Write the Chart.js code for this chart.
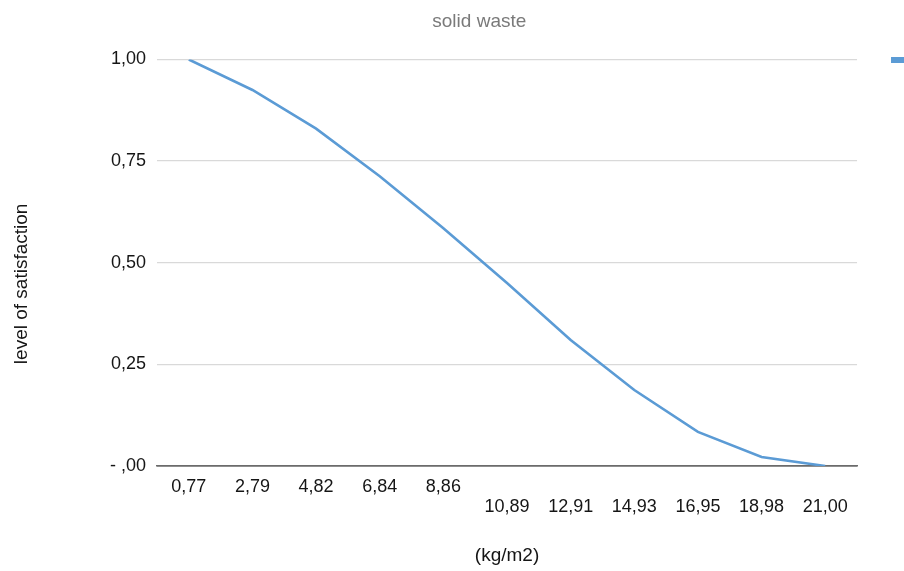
<!DOCTYPE html>
<html>
<head>
<meta charset="utf-8">
<title>solid waste</title>
<script src="https://cdn.jsdelivr.net/npm/chart.js"></script>
<style>
  html, body { margin: 0; padding: 0; background: #ffffff; width: 904px; height: 571px; overflow: hidden; }
  canvas { display: block; }
</style>
</head>
<body>
<canvas id="chart" width="960" height="571"></canvas>
<script>
// Waste load per area (kg/m2) and the matching level of satisfaction
const kgPerM2 = ['0,77', '2,79', '4,82', '6,84', '8,86', '10,89', '12,91', '14,93', '16,95', '18,98', '21,00'];
const satisfaction = [1.00, 0.925, 0.83, 0.713, 0.585, 0.45, 0.31, 0.187, 0.084, 0.022, 0.00];

// Y axis ticks and their printed labels
const yTickValues = [0, 0.25, 0.5, 0.75, 1];
const yTickLabels = ['- ,00', '0,25', '0,50', '0,75', '1,00'];

const seriesName = 'solid waste';

// Layout settings
const LINE_BLUE = '#5b9bd5';
const GRID_GREY = '#d9d9d9';
const AXIS_GREY = '#6b6b6b';
const TEXT_DARK = '#151515';
const firstRowCount = 5;   // labels after this drop to a second row

Chart.defaults.font.family = '"Liberation Sans", Arial, Helvetica, sans-serif';

new Chart(document.getElementById('chart'), {
  type: 'line',
  data: {
    labels: kgPerM2,
    datasets: [{
      label: seriesName,
      data: satisfaction,
      borderColor: LINE_BLUE,
      backgroundColor: LINE_BLUE,
      borderWidth: 2.6,
      pointRadius: 0,
      tension: 0,
      fill: false
    }]
  },
  options: {
    responsive: false,
    animation: false,
    devicePixelRatio: 1,
    layout: { padding: { left: 0, right: 1.4, top: 0, bottom: 0 } },
    plugins: {
      title: {
        display: true,
        text: 'solid waste',
        color: '#7a7a7a',
        font: { size: 19, weight: 'normal' },
        padding: { top: 10.6, bottom: 26.1 }
      },
      legend: {
        position: 'right',
        align: 'start',
        title: { display: true, text: '', font: { size: 10 }, padding: { top: 10, bottom: 0 } },
        labels: {
          padding: 34,
          boxWidth: 14,
          boxHeight: 6,
          color: TEXT_DARK,
          font: { size: 8 },
          generateLabels(chart) {
            const items = Chart.defaults.plugins.legend.labels.generateLabels(chart);
            items.forEach(item => { item.lineWidth = 0; });
            return items;
          }
        }
      },
      tooltip: { enabled: false }
    },
    scales: {
      x: {
        offset: true,
        grid: { display: false, drawTicks: false },
        border: { display: true, color: AXIS_GREY, width: 1.5 },
        ticks: {
          autoSkip: false,
          maxRotation: 0,
          minRotation: 0,
          padding: 11.5,
          color: TEXT_DARK,
          font: { size: 18, lineHeight: 1.08 },
          callback(value, index) {
            const text = kgPerM2[index];
            return index < firstRowCount ? text : ['', text];
          }
        },
        title: {
          display: true,
          text: '(kg/m2)',
          color: TEXT_DARK,
          font: { size: 19 },
          padding: { top: 0, bottom: 3.6 }
        },
        afterFit(scale) { scale.height = 105; }
      },
      y: {
        min: 0,
        max: 1,
        afterBuildTicks(scale) {
          scale.ticks = yTickValues.map(v => ({ value: v }));
        },
        grid: {
          drawTicks: false,
          color: c => (c.tick && c.tick.value === 0 ? AXIS_GREY : GRID_GREY),
          lineWidth: c => (c.tick && c.tick.value === 0 ? 1.5 : 1.3)
        },
        border: { display: false },
        ticks: {
          padding: 11,
          color: TEXT_DARK,
          font: { size: 18 },
          callback(value) {
            const i = yTickValues.indexOf(value);
            return i >= 0 ? yTickLabels[i] : '';
          }
        },
        title: {
          display: true,
          // trailing spaces move the visible words down beside the lower half of the axis
          text: 'level of satisfaction' + ' '.repeat(8),
          color: TEXT_DARK,
          font: { size: 19 },
          padding: { top: 10, bottom: 0 }
        },
        afterFit(scale) { scale.width = 157; }
      }
    }
  }
});
</script>
</body>
</html>
